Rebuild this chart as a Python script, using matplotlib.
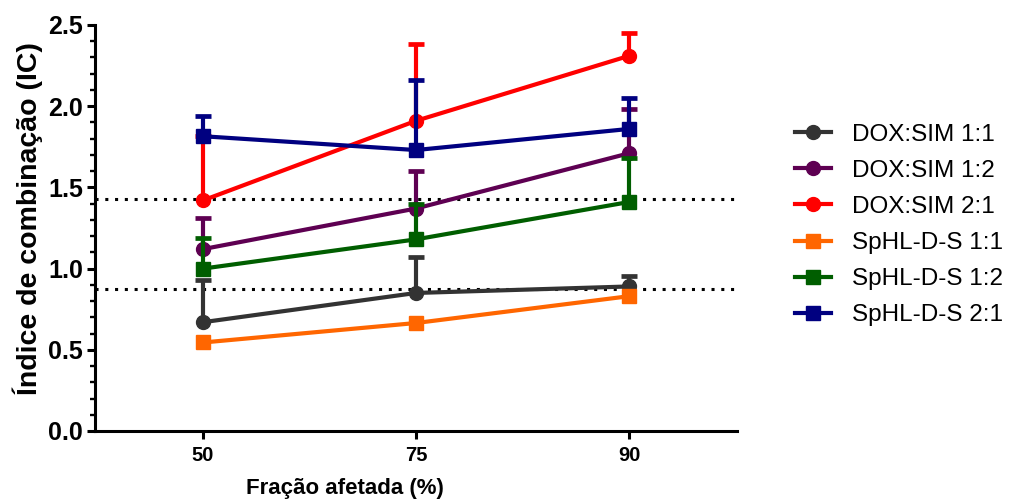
import matplotlib
matplotlib.use("Agg")
import matplotlib.pyplot as plt
from matplotlib.ticker import MultipleLocator, FormatStrFormatter
import numpy as np

plt.rcParams['font.family'] = ['Liberation Sans', 'DejaVu Sans']

# Affected fraction (%) categories
fractions = ["50", "75", "90"]

# Combination index (mean) and upper error (SD) per formulation
labels = ["DOX:SIM 1:1", "DOX:SIM 1:2", "DOX:SIM 2:1",
          "SpHL-D-S 1:1", "SpHL-D-S 1:2", "SpHL-D-S 2:1"]
dox_sim_11 = [0.67, 0.85, 0.89]
dox_sim_11_err = [0.26, 0.22, 0.065]
dox_sim_12 = [1.12, 1.37, 1.71]
dox_sim_12_err = [0.19, 0.23, 0.27]
dox_sim_21 = [1.42, 1.91, 2.31]
dox_sim_21_err = [0.395, 0.47, 0.14]
sphl_11 = [0.545, 0.665, 0.83]
sphl_11_err = [0.0, 0.0, 0.0]
sphl_12 = [1.00, 1.18, 1.41]
sphl_12_err = [0.19, 0.22, 0.27]
sphl_21 = [1.815, 1.73, 1.86]
sphl_21_err = [0.125, 0.43, 0.19]

# Reference thresholds (dotted lines)
thresholds = [1.43, 0.875]

series_means = [dox_sim_11, dox_sim_12, dox_sim_21, sphl_11, sphl_12, sphl_21]
series_errs = [dox_sim_11_err, dox_sim_12_err, dox_sim_21_err,
               sphl_11_err, sphl_12_err, sphl_21_err]
colors = ["#333333", "#5e0052", "#ff0000", "#ff6600", "#005e00", "#000080"]
markers = ["o", "o", "o", "s", "s", "s"]

W, H = 1014, 500
fig = plt.figure(figsize=(W / 100, H / 100), dpi=100)
ax = fig.add_axes([95 / W, 1 - 431 / H, (737 - 95) / W, (431 - 25) / H])

x = np.arange(len(fractions))

for yv in thresholds:
    ax.axhline(yv, color="black", lw=2.2, linestyle=(0, (1, 2.2)), zorder=1)

handles = []
for i, (m, e, c, mk, lab) in enumerate(zip(series_means, series_errs, colors, markers, labels)):
    m = np.asarray(m)
    e = np.asarray(e)
    z = 3 + i
    has = e > 0
    ax.vlines(x[has], m[has], m[has] + e[has], color=c, lw=3.0, zorder=z)
    ax.plot(x[has], (m + e)[has], linestyle="none", marker="_", markersize=11.5,
            markeredgewidth=3.4, color=c, zorder=z)
    h, = ax.plot(x, m, color=c, lw=3.0, marker=mk, markersize=10.5 if mk == "s" else 10,
                 zorder=z + 0.5, label=lab)
    handles.append(h)

ax.set_xlim(-0.507, 2.507)
ax.set_ylim(0, 2.5)
ax.set_xticks(x)
ax.set_xticklabels(fractions)
ax.yaxis.set_major_locator(MultipleLocator(0.5))
ax.yaxis.set_minor_locator(MultipleLocator(0.1))
ax.yaxis.set_major_formatter(FormatStrFormatter("%.1f"))

for side in ["top", "right"]:
    ax.spines[side].set_visible(False)
for side in ["left", "bottom"]:
    ax.spines[side].set_linewidth(2.2)

ax.tick_params(axis="y", which="major", length=6, width=2.2, pad=2.5, labelsize=18)
ax.tick_params(axis="y", which="minor", length=3.5, width=1.7)
ax.tick_params(axis="x", which="major", length=6, width=2.2, pad=5, labelsize=14.5)
for t in ax.get_xticklabels() + ax.get_yticklabels():
    t.set_fontweight("bold")

fig.text(345 / W, 1 - 494 / H, "Fração afetada (%)", ha="center", va="baseline",
         fontsize=16, fontweight="bold")
fig.text(28 / W, 1 - 219 / H, "Índice de combinação (IC)", ha="center", va="center",
         rotation=90, fontsize=20.5, fontweight="bold")

fig.legend(handles=handles, loc="center left", bbox_to_anchor=(795 / W, 1 - 225 / H),
           frameon=False, fontsize=17.5, handlelength=1.5, handletextpad=0.85,
           labelspacing=0.58, borderpad=0, borderaxespad=0)

fig.savefig("out.png", dpi=100)
